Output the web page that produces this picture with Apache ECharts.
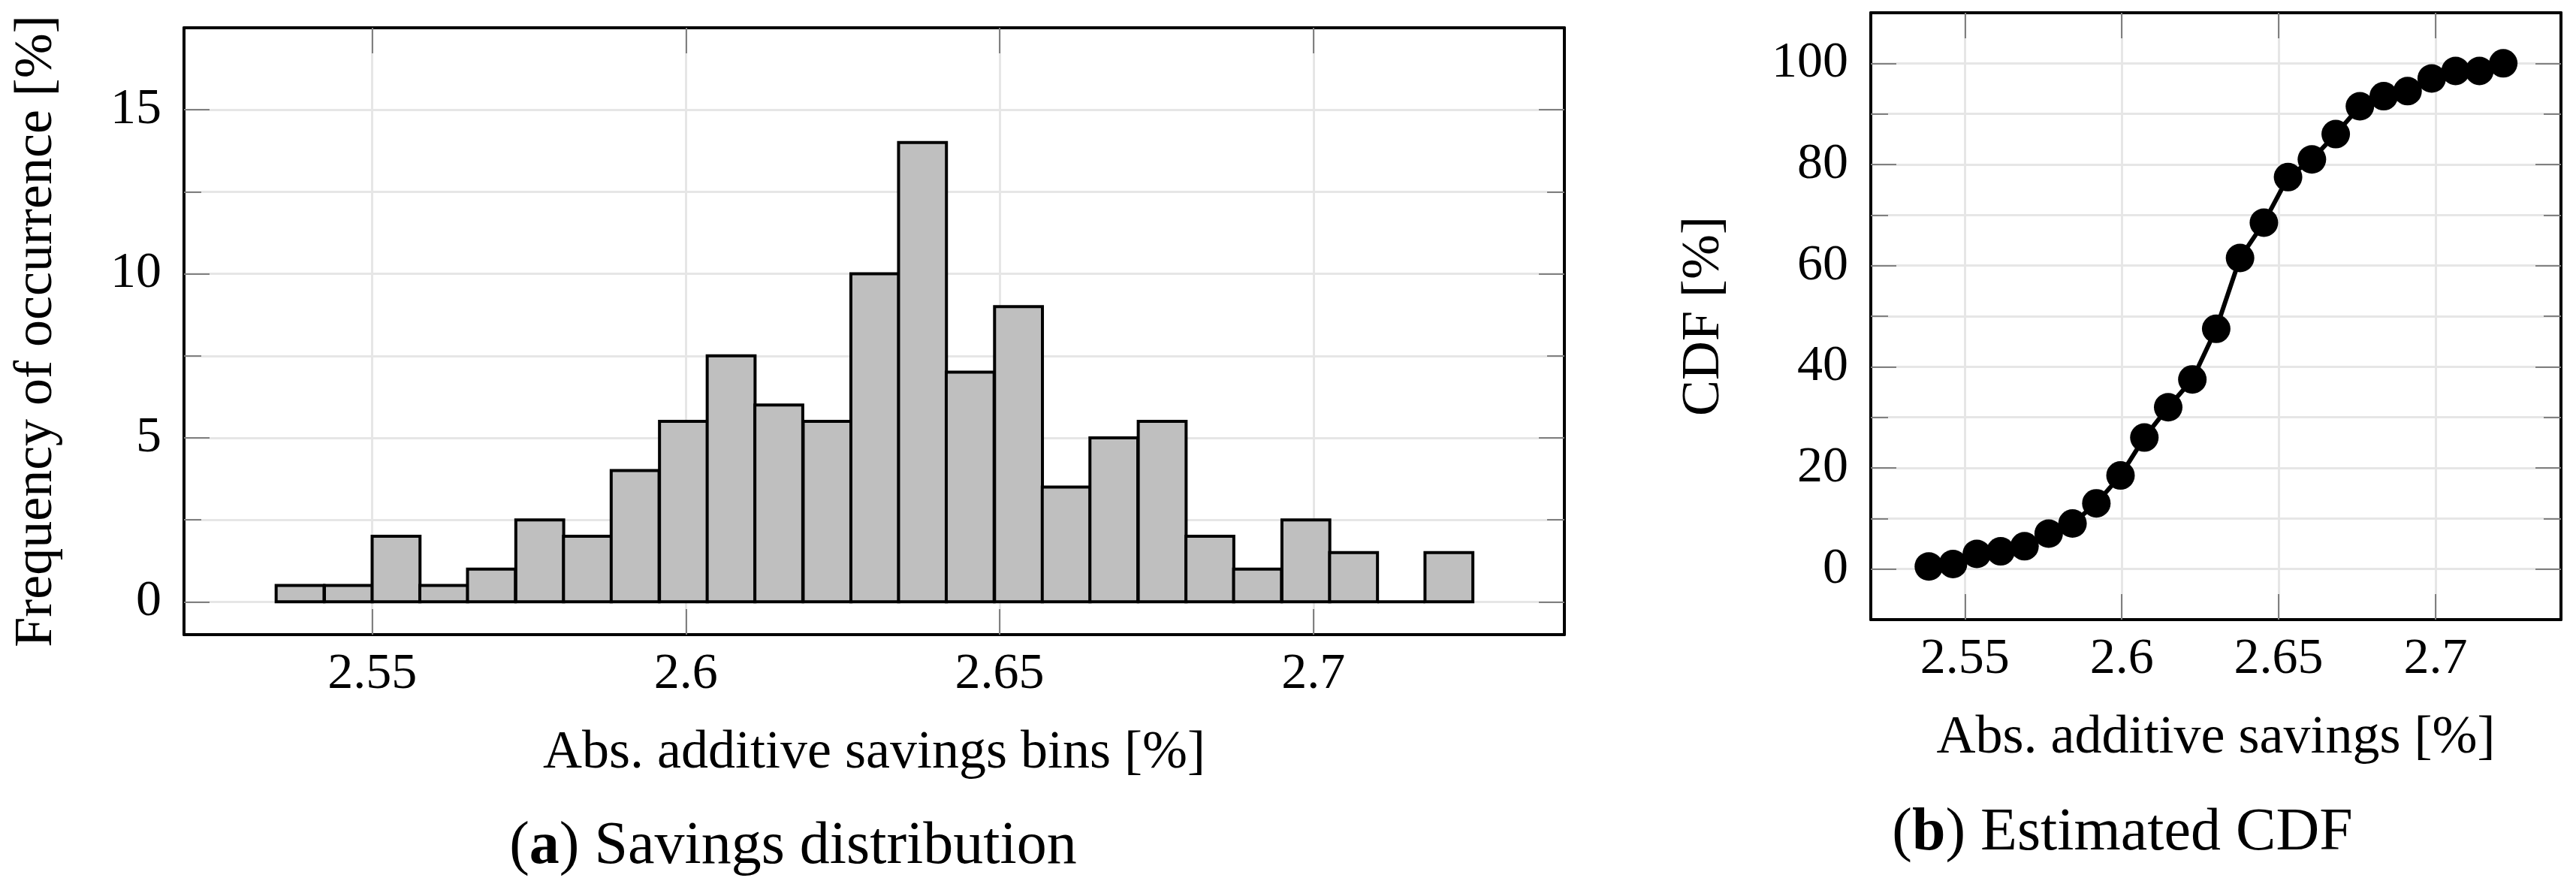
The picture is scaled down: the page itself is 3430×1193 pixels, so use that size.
<!DOCTYPE html>
<html>
<head>
<meta charset="utf-8">
<script src="https://cdn.jsdelivr.net/npm/echarts@6/dist/echarts.min.js"></script>
<style>
html,body{margin:0;padding:0;background:#fff;}
#chart{width:3430px;height:1193px;}
</style>
</head>
<body>
<div id="chart"></div>
<script>
// ---- data ----
const binCenters = [2.5385, 2.5462, 2.5538, 2.5614, 2.5690, 2.5767, 2.5843, 2.5919, 2.5996, 2.6072,
                    2.6148, 2.6225, 2.6301, 2.6377, 2.6453, 2.6530, 2.6606, 2.6682, 2.6759, 2.6835,
                    2.6911, 2.6988, 2.7064, 2.7140, 2.7216];
const binWidth = 0.00763;
const freq = [0.5, 0.5, 2, 0.5, 1, 2.5, 2, 4, 5.5, 7.5, 6, 5.5, 10, 14, 7, 9, 3.5, 5, 5.5, 2, 1, 2.5, 1.5, 0, 1.5];
const cdf = [0.5, 1, 3, 3.5, 4.5, 7, 9, 13, 18.5, 26, 32, 37.5, 47.5, 61.5, 68.5, 77.5, 81, 86, 91.5, 93.5, 94.5, 97, 98.5, 98.5, 100];
const xTicks = [2.55, 2.6, 2.65, 2.7];
const xTickLabels = ['2.55', '2.6', '2.65', '2.7'];
const histYTicks = [0, 5, 10, 15];
const histYMinor = [2.5, 7.5, 12.5];
const cdfYTicks = [0, 20, 40, 60, 80, 100];
const cdfYMinor = [10, 30, 50, 70, 90];
const histXName = 'Abs. additive savings bins [%]';
const histYName = 'Frequency of occurrence [%]';
const cdfXName = 'Abs. additive savings [%]';
const cdfYName = 'CDF [%]';

const FONT = '"Liberation Serif", "Times New Roman", serif';
const TICK_FS = 68, NAME_FS = 72, CAP_FS = 80;
const tickLine = {show: true, inside: true, length: 34, lineStyle: {color: '#808080', width: 2}};
const minorTickLine = {show: true, inside: true, length: 23, lineStyle: {color: '#808080', width: 2}};
const frameLine = {show: true, onZero: false, lineStyle: {color: '#000', width: 4}};
const gridLine = {show: true, lineStyle: {color: '#e6e6e6', width: 3}};
const tickRich = {t: {color: '#000', fontFamily: FONT, fontSize: TICK_FS, fontWeight: 'normal'}};
const labelText = {color: '#000', fontFamily: FONT, fontSize: TICK_FS, fontWeight: 'normal', rich: tickRich};

function fmtX(v) {
  const i = xTicks.findIndex(t => Math.abs(t - v) < 1e-9);
  return i >= 0 ? '{t|' + xTickLabels[i] + '}' : '';
}
function fmtY(v) { return '{t|' + String(v) + '}'; }

function buildAxes(gridIndex, xr, yr, yMajor, yMinor, xName, yName, yNameGap) {
  const xAxes = [
    {type: 'value', gridIndex, position: 'bottom', min: xr[0], max: xr[1], z: 1,
     axisLine: frameLine, axisTick: Object.assign({customValues: xTicks}, tickLine),
     axisLabel: Object.assign({customValues: xTicks, margin: 19, formatter: fmtX}, labelText),
     splitLine: {show: false},
     name: xName, nameLocation: 'middle', nameGap: 122,
     nameTextStyle: {color: '#000', fontFamily: FONT, fontSize: NAME_FS}},
    {type: 'value', gridIndex, position: 'top', min: xr[0], max: xr[1], z: 1,
     axisLine: frameLine, axisTick: Object.assign({customValues: xTicks}, tickLine),
     axisLabel: {show: false}, splitLine: {show: false}},
    {type: 'value', gridIndex, position: 'bottom', min: xr[0], max: xr[1], z: 0,
     axisLine: {show: false}, axisTick: {show: false, customValues: xTicks},
     axisLabel: {show: false}, splitLine: gridLine}
  ];
  const allY = yMajor.concat(yMinor).sort((a, b) => a - b);
  const yAxes = [
    {type: 'value', gridIndex, position: 'left', min: yr[0], max: yr[1], z: 1,
     axisLine: frameLine, axisTick: Object.assign({customValues: yMajor}, tickLine),
     axisLabel: Object.assign({customValues: yMajor, margin: 30, formatter: fmtY}, labelText),
     splitLine: {show: false},
     name: yName, nameLocation: 'middle', nameGap: yNameGap,
     nameTextStyle: {color: '#000', fontFamily: FONT, fontSize: NAME_FS}},
    {type: 'value', gridIndex, position: 'left', min: yr[0], max: yr[1], z: 1,
     axisLine: {show: false}, axisTick: Object.assign({customValues: yMinor}, minorTickLine),
     axisLabel: {show: false}, splitLine: {show: false}},
    {type: 'value', gridIndex, position: 'right', min: yr[0], max: yr[1], z: 1,
     axisLine: frameLine, axisTick: Object.assign({customValues: yMajor}, tickLine),
     axisLabel: {show: false}, splitLine: {show: false}},
    {type: 'value', gridIndex, position: 'right', min: yr[0], max: yr[1], z: 1,
     axisLine: {show: false}, axisTick: Object.assign({customValues: yMinor}, minorTickLine),
     axisLabel: {show: false}, splitLine: {show: false}},
    {type: 'value', gridIndex, position: 'left', min: yr[0], max: yr[1], z: 0,
     axisLine: {show: false}, axisTick: {show: false, customValues: allY},
     axisLabel: {show: false}, splitLine: gridLine}
  ];
  return {xAxes, yAxes};
}

const a0 = buildAxes(0, [2.52, 2.74], [-1, 17.5], histYTicks, histYMinor, histXName, histYName, 160);
const a1 = buildAxes(1, [2.52, 2.74], [-10, 110], cdfYTicks, cdfYMinor, cdfXName, cdfYName, 186);

const histData = binCenters.map((c, i) => [c, freq[i]]);
const cdfData = binCenters.map((c, i) => [c, cdf[i]]);

const chart = echarts.init(document.getElementById('chart'), null, {renderer: 'canvas'});
chart.setOption({
  backgroundColor: '#fff',
  animation: false,
  textStyle: {fontFamily: FONT},
  title: [
    {text: '({b|a}) Savings distribution', left: 1056, top: 1088, textAlign: 'center', padding: 0,
     textStyle: {fontFamily: FONT, fontSize: CAP_FS, fontWeight: 'normal', color: '#000',
                 rich: {b: {fontFamily: FONT, fontSize: CAP_FS, fontWeight: 'bold', color: '#000'}}}},
    {text: '({b|b}) Estimated CDF', left: 2826, top: 1070, textAlign: 'center', padding: 0,
     textStyle: {fontFamily: FONT, fontSize: CAP_FS, fontWeight: 'normal', color: '#000',
                 rich: {b: {fontFamily: FONT, fontSize: CAP_FS, fontWeight: 'bold', color: '#000'}}}}
  ],
  grid: [
    {left: 245, top: 37, width: 1838, height: 808},
    {left: 2491, top: 17, width: 919, height: 808}
  ],
  xAxis: a0.xAxes.concat(a1.xAxes),
  yAxis: a0.yAxes.concat(a1.yAxes),
  series: [
    {
      type: 'custom', xAxisIndex: 0, yAxisIndex: 0, z: 2,
      data: histData,
      encode: {x: 0, y: 1},
      renderItem: function (params, api) {
        const c = api.value(0), h = api.value(1);
        const p1 = api.coord([c - binWidth / 2, h]);
        const p2 = api.coord([c + binWidth / 2, 0]);
        return {
          type: 'rect',
          shape: {x: p1[0], y: p1[1], width: p2[0] - p1[0], height: p2[1] - p1[1]},
          style: {fill: '#bfbfbf', stroke: '#000', lineWidth: 4}
        };
      }
    },
    {
      type: 'line', xAxisIndex: 3, yAxisIndex: 5, z: 2,
      data: cdfData,
      symbol: 'circle', symbolSize: 38, showSymbol: true,
      lineStyle: {color: '#000', width: 6},
      itemStyle: {color: '#000'}
    }
  ]
});
</script>
</body>
</html>
